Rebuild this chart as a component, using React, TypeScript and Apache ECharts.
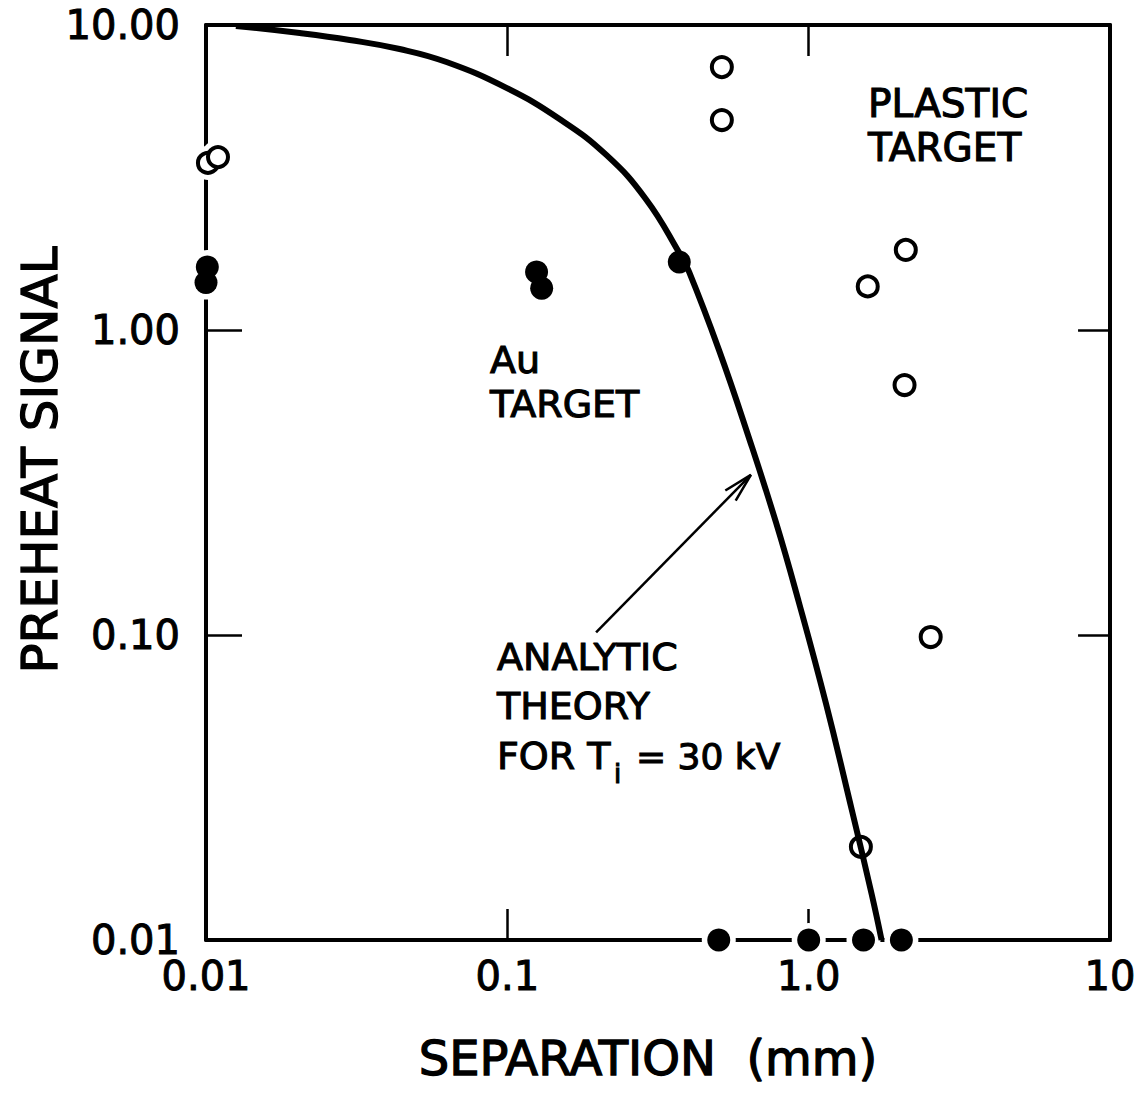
import React, { useEffect, useRef } from "react";
import * as echarts from "echarts";

// ---- data ----
const xTickLabels = ["0.01", "0.1", "1.0", "10"];
const yTickLabels = ["0.01", "0.10", "1.00", "10.00"];

// analytic theory curve (T_i = 30 kV)
const theoryX = [0.01257, 0.02048, 0.02998, 0.04389, 0.0628, 0.0993, 0.149, 0.213, 0.288, 0.372, 0.401, 0.504, 0.632, 0.778, 0.927, 1.14, 1.39, 1.62, 1.745];
const theoryY = [9.93, 9.41, 8.93, 8.34, 7.56, 6.22, 4.92, 3.75, 2.69, 1.79, 1.55, 0.859, 0.446, 0.2347, 0.1283, 0.0598, 0.0267, 0.01406, 0.01];

// plastic target (open circles)
const plasticX = [0.01015, 0.01096, 0.515, 0.515, 2.1, 1.57, 2.08, 2.54, 1.49];
const plasticY = [3.53, 3.69, 7.28, 4.88, 1.83, 1.39, 0.66, 0.0985, 0.0202];

// Au target (filled circles)
const auX = [0.0101, 0.01, 0.125, 0.13, 0.372, 0.503, 1.0, 1.52, 2.03];
const auY = [1.61, 1.43, 1.55, 1.37, 1.67, 0.01, 0.01, 0.01, 0.01];

// annotation arrow (data coordinates: from -> to)
const arrowFrom = [0.197, 0.102];
const arrowTo = [0.643, 0.335];

const FONT = "DejaVu Sans";
const decadeIndex = (v: number) => Math.round(Math.log10(v)) + 2;

const zip = (a: number[], b: number[]) => a.map((v, i) => [v, b[i]]);

export default function App() {
  const ref = useRef<HTMLDivElement>(null);

  useEffect(() => {
    document.body.style.margin = "0";
    document.body.style.overflow = "hidden";
    if (!ref.current) return;
    const chart = echarts.init(ref.current, undefined, { renderer: "svg" });

    const axisCommon = {
      type: "log" as const,
      logBase: 10,
      min: 0.01,
      max: 10,
      splitLine: { show: false },
      minorTick: { show: false },
      axisLine: { show: true, onZero: false, lineStyle: { color: "#000", width: 4 } },
    };

    const text = (t: string, x: number, y: number, size: number, extra: any = {}) => ({
      type: "text",
      x,
      y,
      z: 100,
      style: {
        text: t,
        fill: "#000",
        stroke: "#000",
        lineWidth: 1.1,
        font: `${size}px "${FONT}"`,
        align: "left",
        verticalAlign: "middle",
        ...extra,
      },
    });

    const labelCommon = {
      fontSize: 40,
      fontFamily: FONT,
      color: "#000",
      textBorderColor: "#000",
      textBorderWidth: 1,
    };

    const option: any = {
      animation: false,
      backgroundColor: "#fff",
      grid: { left: 206, right: 28, top: 25, bottom: 161, containLabel: false },
      xAxis: [
        {
          ...axisCommon,
          position: "bottom",
          axisTick: { show: true, inside: true, length: 31, lineStyle: { color: "#000", width: 2.5 } },
          axisLabel: {
            ...labelCommon,
            margin: 16,
            formatter: (v: number) => xTickLabels[decadeIndex(v)],
          },
        },
        {
          ...axisCommon,
          position: "top",
          axisTick: { show: true, inside: true, length: 31, lineStyle: { color: "#000", width: 2.5 } },
          axisLabel: { show: false },
        },
      ],
      yAxis: [
        {
          ...axisCommon,
          position: "left",
          axisTick: { show: true, inside: true, length: 36, lineStyle: { color: "#000", width: 2.5 } },
          axisLabel: {
            ...labelCommon,
            margin: 26,
            formatter: (v: number) => yTickLabels[decadeIndex(v)],
          },
        },
        {
          ...axisCommon,
          position: "right",
          axisTick: { show: true, inside: true, length: 32, lineStyle: { color: "#000", width: 2.5 } },
          axisLabel: { show: false },
        },
      ],
      series: [
        {
          name: "halo",
          type: "scatter",
          clip: false,
          silent: true,
          symbol: "circle",
          symbolSize: 34,
          itemStyle: { color: "#fff", opacity: 1 },
          data: [...zip(plasticX, plasticY), ...zip(auX, auY)],
          z: 3,
        },
        {
          name: "Plastic target",
          type: "scatter",
          clip: false,
          symbol: "circle",
          symbolSize: 20,
          itemStyle: { color: "#fff", borderColor: "#000", borderWidth: 4, opacity: 1 },
          data: zip(plasticX, plasticY),
          z: 4,
        },
        {
          name: "Au target",
          type: "scatter",
          clip: false,
          symbol: "circle",
          symbolSize: 23,
          itemStyle: { color: "#000", opacity: 1 },
          data: zip(auX, auY),
          z: 4,
        },
        {
          name: "Analytic theory",
          type: "line",
          clip: false,
          smooth: 0.45,
          symbol: "none",
          lineStyle: { color: "#000", width: 6 },
          data: zip(theoryX, theoryY),
          z: 6,
        },
        {
          name: "arrow",
          type: "custom",
          clip: false,
          silent: true,
          z: 6,
          encode: { x: [0, 2], y: [1, 3] },
          data: [[arrowFrom[0], arrowFrom[1], arrowTo[0], arrowTo[1]]],
          renderItem: (_params: any, api: any) => {
            const p1 = api.coord([api.value(0), api.value(1)]);
            const p2 = api.coord([api.value(2), api.value(3)]);
            const ang = Math.atan2(p1[1] - p2[1], p1[0] - p2[0]);
            const hl = 30;
            const spread = (14 * Math.PI) / 180;
            const b1 = [p2[0] + hl * Math.cos(ang + spread), p2[1] + hl * Math.sin(ang + spread)];
            const b2 = [p2[0] + hl * Math.cos(ang - spread), p2[1] + hl * Math.sin(ang - spread)];
            const st = { stroke: "#000", lineWidth: 2.5, fill: null };
            return {
              type: "group",
              children: [
                { type: "line", shape: { x1: p1[0], y1: p1[1], x2: p2[0], y2: p2[1] }, style: st },
                { type: "polyline", shape: { points: [b1, p2, b2] }, style: st },
              ],
            };
          },
        },
      ],
      graphic: [
        text("PLASTIC", 868, 103, 39),
        text("TARGET", 868, 147, 39),
        text("Au", 490, 360, 38),
        text("TARGET", 490, 404, 38),
        text("ANALYTIC", 497, 657, 38),
        text("THEORY", 497, 706, 38),
        text("FOR T", 497, 756, 38),
        text("i", 614, 774, 26),
        text("= 30 kV", 636, 756, 36),
        {
          type: "text",
          x: 40,
          y: 460,
          rotation: Math.PI / 2,
          z: 100,
          style: {
            text: "PREHEAT SIGNAL",
            fill: "#000",
            stroke: "#000",
            lineWidth: 1.3,
            font: `50px "${FONT}"`,
            align: "center",
            verticalAlign: "middle",
          },
        },
        {
          type: "text",
          x: 648,
          y: 1058,
          z: 100,
          style: {
            text: "SEPARATION  (mm)",
            fill: "#000",
            stroke: "#000",
            lineWidth: 1.3,
            font: `48px "${FONT}"`,
            align: "center",
            verticalAlign: "middle",
          },
        },
      ],
    };

    chart.setOption(option);
    return () => chart.dispose();
  }, []);

  return <div ref={ref} style={{ width: 1139, height: 1101 }} />;
}
